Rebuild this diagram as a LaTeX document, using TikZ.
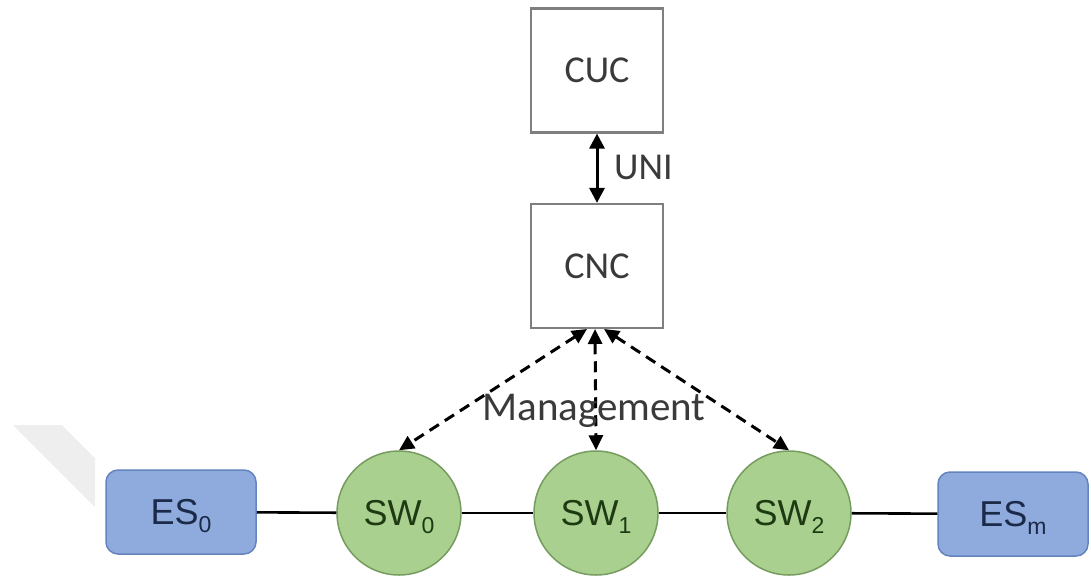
\documentclass[tikz,border=0pt]{standalone}
\usepackage{fontspec}
\setmainfont{Carlito}
\newfontfamily\arialf{Liberation Sans}
\usetikzlibrary{arrows.meta}
\definecolor{esfill}{HTML}{8FAADC}
\definecolor{esborder}{HTML}{6484BE}
\definecolor{estext}{HTML}{1A2A48}
\definecolor{swfill}{HTML}{A9D08E}
\definecolor{swborder}{HTML}{779C60}
\definecolor{swtext}{HTML}{1E3A12}
\definecolor{boxgray}{HTML}{7F7F7F}
\definecolor{textgray}{HTML}{3A3A3A}
\definecolor{wmark}{HTML}{EEEEEE}
\newcommand\mysub[1]{\raisebox{-8pt}[0pt][0pt]{\fontsize{23}{23}\selectfont #1}}
\tikzset{
  ctrlbox/.style={draw=boxgray, line width=2.2pt, fill=white, minimum width=132pt,
    minimum height=124pt, inner sep=0pt, text=textgray, font=\fontsize{38}{40}\selectfont},
  esbox/.style={draw=esborder, fill=esfill, rounded corners=12pt, line width=1.5pt,
    minimum width=150pt, minimum height=84pt, inner sep=0pt, text=estext,
    font=\arialf\fontsize{36}{38}\selectfont},
  swnode/.style={circle, draw=swborder, fill=swfill, line width=1.5pt, minimum size=124pt,
    inner sep=0pt, text=swtext, font=\arialf\fontsize{36}{38}\selectfont},
  link/.style={draw=black, line width=2.6pt},
  uniarrow/.style={draw=black, line width=3pt,
    {Triangle[length=15pt,width=15pt]}-{Triangle[length=15pt,width=15pt]}},
  mgmt/.style={draw=black, line width=3pt, dash pattern=on 11pt off 7pt,
    {Triangle[length=15pt,width=14pt]}-{Triangle[length=15pt,width=14pt]}},
  lbl/.style={text=textgray, inner sep=0pt}
}
\begin{document}
\begin{tikzpicture}[x=1pt,y=-1pt]
\useasboundingbox (0,0) rectangle (1091,575);
\fill[wmark] (13,425) -- (62,425) -- (95,458) -- (95,507) -- cycle;
\node[ctrlbox] (cuc) at (597,70.5) {CUC};
\node[ctrlbox] (cnc) at (597,266) {CNC};
\node[esbox] (es0) at (181,512) {ES\mysub{0}};
\node[esbox] (esm) at (1013,514) {ES\mysub{m}};
\node[swnode] (sw0) at (399,513) {SW\mysub{0}};
\node[swnode] (sw1) at (596,513) {SW\mysub{1}};
\node[swnode] (sw2) at (789,513) {SW\mysub{2}};
\draw[link] (es0) -- (sw0);
\draw[link] (sw0) -- (sw1);
\draw[link] (sw1) -- (sw2);
\draw[link] (sw2) -- (esm);
\draw[uniarrow] (cuc) -- (cnc);
\node[lbl, anchor=west, font=\fontsize{38}{40}\selectfont] (uni) at (614,167) {UNI};
\coordinate (m0) at (587,329);
\coordinate (m1) at (595,329);
\coordinate (m2) at (604,329);
\draw[mgmt] (m0) -- (sw0.north);
\draw[mgmt] (m1) -- (sw1.north);
\draw[mgmt] (m2) -- (sw2.north);
\node[lbl, anchor=base, font=\fontsize{41}{42}\selectfont] (mg) at (594,420) {Management};
\end{tikzpicture}
\end{document}
